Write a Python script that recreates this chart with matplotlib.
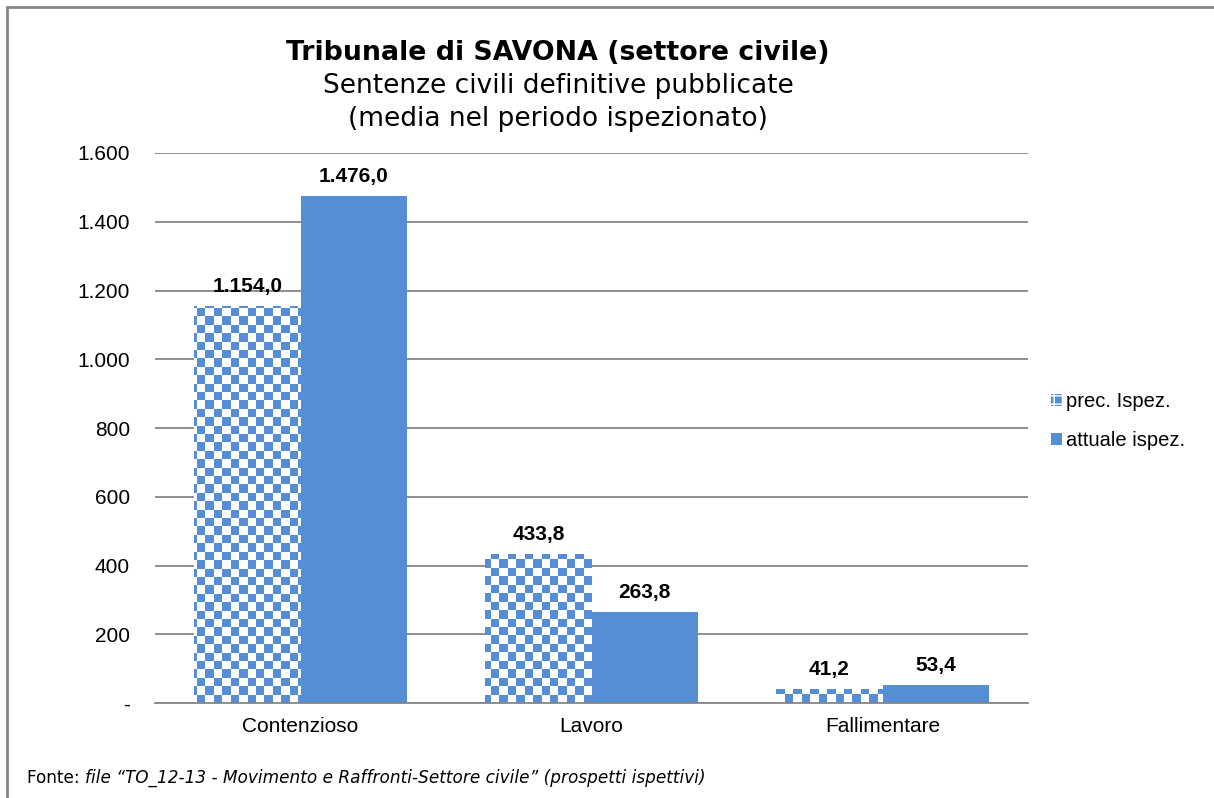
import numpy as np
import matplotlib.pyplot as plt
from matplotlib.patches import Rectangle
from matplotlib.colors import ListedColormap
from matplotlib.ticker import FuncFormatter, MultipleLocator

categories = ['Contenzioso', 'Lavoro', 'Fallimentare']
prec_ispez = [1154.0, 433.8, 41.2]
attuale_ispez = [1476.0, 263.8, 53.4]
series_names = ['prec. Ispez.', 'attuale ispez.']

BLUE = '#558ED5'
GRID = '#868686'
W, H, DPI = 1214, 798, 100

fig = plt.figure(figsize=(W / DPI, H / DPI), dpi=DPI)
ax = fig.add_axes([155 / W, 1 - 703 / H, 873 / W, 550 / H])

x = np.arange(len(categories))
bw = 0.365

# checkered bars: white bar + checker image clipped to it
bars_prec = ax.bar(x - bw / 2, prec_ispez, bw, color='white', zorder=2)
bars_att = ax.bar(x + bw / 2, attuale_ispez, bw, color=BLUE, zorder=2)

sq = 8.4  # checker square size in pixels
ncols = int(873 / sq) + 1
nrows = int(550 / sq) + 1
checker = (np.indices((nrows, ncols)).sum(axis=0) % 2).astype(float)
cmap = ListedColormap(['white', BLUE])
for b in bars_prec:
    im = ax.imshow(checker, cmap=cmap, interpolation='nearest', aspect='auto',
                   extent=[-0.5, -0.5 + ncols * sq / 873 * 3, 0, nrows * sq / 550 * 1600],
                   origin='lower', zorder=2.5)
    im.set_clip_path(b)
ax.set_xlim(-0.5, 2.5)
ax.set_ylim(0, 1600)

def fmt_num(v):
    s = '{:,.1f}'.format(v)
    return s.replace(',', 'X').replace('.', ',').replace('X', '.')

for bars, vals in [(bars_prec, prec_ispez), (bars_att, attuale_ispez)]:
    for b, v in zip(bars, vals):
        ax.annotate(fmt_num(v), (b.get_x() + b.get_width() / 2, v),
                    xytext=(0, 10), textcoords='offset points', ha='center', va='baseline',
                    fontsize=15, fontweight='bold', family='Liberation Sans', zorder=5)

ax.yaxis.set_major_locator(MultipleLocator(200))
ax.yaxis.set_major_formatter(FuncFormatter(
    lambda v, p: '-' if v == 0 else '{:,.0f}'.format(v).replace(',', '.')))
ax.grid(axis='y', color=GRID, linewidth=1.3, zorder=0)
ax.set_axisbelow(True)
for s in ['top', 'right', 'left']:
    ax.spines[s].set_visible(False)
ax.spines['bottom'].set_color(GRID)
ax.spines['bottom'].set_linewidth(1.3)
ax.tick_params(axis='both', length=0, labelsize=15)
ax.tick_params(axis='y', pad=18)
ax.tick_params(axis='x', pad=10)
ax.set_xticks(x)
ax.set_xticklabels(categories)
for lab in ax.get_xticklabels() + ax.get_yticklabels():
    lab.set_family('Liberation Sans')

# legend
h1 = Rectangle((0, 0), 1, 1, facecolor=BLUE, edgecolor='white', hatch='++', linewidth=0)
h2 = Rectangle((0, 0), 1, 1, facecolor=BLUE, linewidth=0)
fig.legend([h1, h2], series_names, loc='center left',
           bbox_to_anchor=(1033 / W, 1 - 421 / H), frameon=False,
           prop={'family': 'Liberation Sans', 'size': 14.5},
           handlelength=0.55, handleheight=0.55, handletextpad=0.2, labelspacing=1.0)

# titles
fig.text(558 / W, 1 - 53 / H, 'Tribunale di SAVONA (settore civile)', ha='center', va='center',
         fontsize=19.3, fontweight='bold', family='DejaVu Sans')
fig.text(558 / W, 1 - 86 / H, 'Sentenze civili definitive pubblicate', ha='center', va='center',
         fontsize=19, family='DejaVu Sans')
fig.text(558 / W, 1 - 119 / H, '(media nel periodo ispezionato)', ha='center', va='center',
         fontsize=19, family='DejaVu Sans')

# footnote
t = fig.text(27 / W, 1 - 778 / H, 'Fonte: ', ha='left', va='center', fontsize=12.2, family='DejaVu Sans')
fig.canvas.draw()
bb = t.get_window_extent()
fig.text(bb.x1 / W, 1 - 778 / H,
         'file \u201cTO_12-13 - Movimento e Raffronti-Settore civile\u201d (prospetti ispettivi)',
         ha='left', va='center', fontsize=12.2, style='italic', family='DejaVu Sans')

# outer frame
fig.patches.append(Rectangle((7 / W, -0.1), 1.2, 1 - 7 / H + 0.1, transform=fig.transFigure,
                             fill=False, edgecolor=GRID, linewidth=2))

fig.savefig('out.png', dpi=DPI)
